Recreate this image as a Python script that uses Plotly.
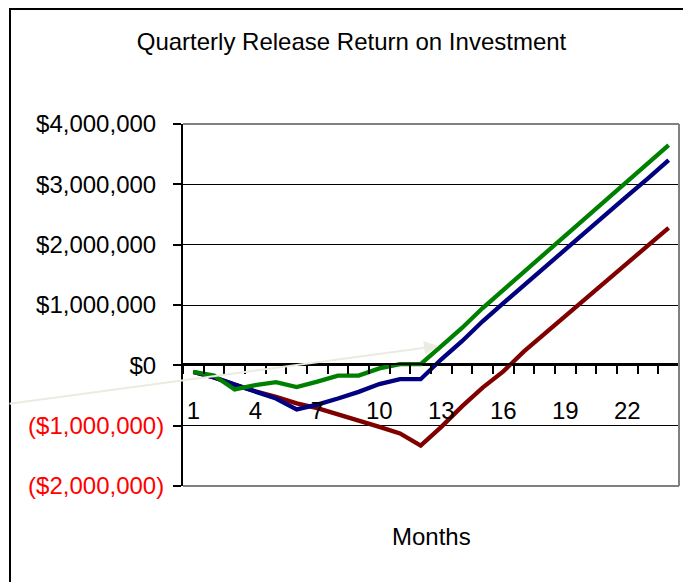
import plotly.graph_objects as go

months = list(range(1, 25))
green_m = [-0.11, -0.17, -0.40, -0.33, -0.28, -0.36, -0.27, -0.17, -0.17, -0.05, 0.02, 0.02,
           0.32, 0.62, 0.95, 1.25, 1.55, 1.85, 2.15, 2.45, 2.75, 3.05, 3.35, 3.65]
blue_m = [-0.11, -0.20, -0.32, -0.43, -0.55, -0.73, -0.65, -0.55, -0.44, -0.31, -0.23, -0.23,
          0.10, 0.40, 0.73, 1.03, 1.33, 1.63, 1.93, 2.22, 2.51, 2.81, 3.10, 3.40]
red_m = [-0.11, -0.20, -0.32, -0.43, -0.52, -0.63, -0.71, -0.81, -0.92, -1.02, -1.13, -1.33,
         -1.02, -0.68, -0.37, -0.10, 0.23, 0.52, 0.81, 1.11, 1.40, 1.69, 1.99, 2.28]

y_tickvals = [-2e6, -1e6, 0, 1e6, 2e6, 3e6, 4e6]
y_ticktext_raw = ["($2,000,000)", "($1,000,000)", "$0", "$1,000,000", "$2,000,000", "$3,000,000", "$4,000,000"]
x_tickvals = [1, 4, 7, 10, 13, 16, 19, 22]
x_ticktext = ["1", "4", "7", "10", "13", "16", "19", "22"]

title_text = "Quarterly Release Return on Investment"
x_title = "Months"

FONT = "Liberation Sans, Arial, sans-serif"
FS = 24


def fmt(v, t):
    if v < 0:
        return '<span style="color:#ff0000">' + t + '</span>'
    return t + '<span style="color:rgba(0,0,0,0)">)</span>'


y_ticktext = [fmt(v, t) for v, t in zip(y_tickvals, y_ticktext_raw)]

fig = go.Figure()
for name, vals, col in [("Release A", red_m, "#800000"),
                        ("Release B", blue_m, "#000080"),
                        ("Release C", green_m, "#008000")]:
    fig.add_trace(go.Scatter(x=months, y=[v * 1e6 for v in vals], mode="lines", name=name,
                             line=dict(color=col, width=4.3), cliponaxis=False))

# page is offset by the default 8px body margin
L, R, T, B = 175, 12, 116, 96
W, H = 683, 574
pw = W - L - R
ph = H - T - B

fig.update_layout(
    width=W, height=H,
    margin=dict(l=L, r=R, t=T, b=B, pad=0),
    paper_bgcolor="white", plot_bgcolor="white",
    showlegend=False,
    font=dict(family=FONT, size=FS, color="black"),
    title=dict(text=title_text, x=343.5 / W, xref="container", xanchor="center",
               y=1 - 34 / H, yref="container", yanchor="middle",
               font=dict(family=FONT, size=FS, color="black")),
    xaxis=dict(range=[0.5, 24.5], tickmode="array", tickvals=x_tickvals, ticktext=x_ticktext,
               ticks="", showgrid=False, zeroline=False, showline=True, linecolor="black",
               linewidth=2, anchor="free", position=(486 - 364) / ph,
               ticklabelstandoff=25,
               minor=dict(tickvals=[i + 0.5 for i in range(0, 25)], ticks="outside", ticklen=9,
                          tickcolor="black", tickwidth=1.5, showgrid=False)),
    yaxis=dict(range=[-2e6, 4e6], tickmode="array", tickvals=y_tickvals, ticktext=y_ticktext,
               ticks="outside", ticklen=8, tickcolor="black", tickwidth=1.5,
               showgrid=True, gridcolor="black", gridwidth=1, zeroline=False,
               showline=True, linecolor="black", linewidth=2, ticklabelstandoff=4),
    shapes=[
        dict(type="line", xref="paper", yref="paper", x0=0, x1=1, y0=1, y1=1,
             line=dict(color="#808080", width=2), layer="above"),
        dict(type="line", xref="paper", yref="paper", x0=0, x1=1, y0=0, y1=0,
             line=dict(color="#808080", width=2), layer="above"),
        dict(type="line", xref="paper", yref="paper", x0=1, x1=1, y0=0, y1=1,
             line=dict(color="#808080", width=2), layer="above"),
        dict(type="rect", xref="paper", yref="paper", x0=(2 - L) / pw, x1=2,
             y0=-1, y1=(ph + T - 1) / ph, line=dict(color="black", width=2), layer="above"),
    ],
    annotations=[
        dict(x=12.84, y=0.32e6, xref="x", yref="y", text="", showarrow=True,
             ax=-438, ay=58, arrowcolor="#ebebe2", arrowwidth=2, arrowhead=2, arrowsize=1.4,
             standoff=0, startstandoff=0),
        dict(x=0.5, y=(486 - 536) / ph, xref="paper", yref="paper", text=x_title,
             showarrow=False, xanchor="center", yanchor="middle",
             font=dict(family=FONT, size=FS, color="black")),
    ],
)

fig.write_html("out.html")
